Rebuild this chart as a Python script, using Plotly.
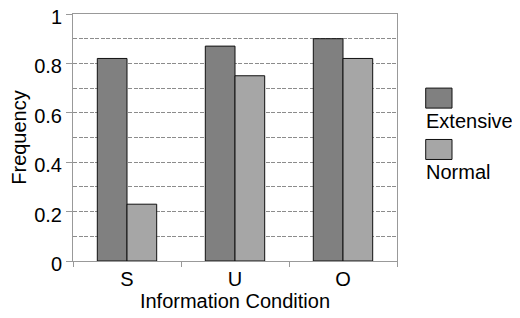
import plotly.graph_objects as go

categories = ["S", "U", "O"]
extensive = [0.82, 0.87, 0.90]
normal = [0.23, 0.75, 0.82]
series_names = ["Extensive", "Normal"]
colors = ["#808080", "#a6a6a6"]
y_ticks = [0, 0.2, 0.4, 0.6, 0.8, 1]
y_tick_text = ["0", "0.2", "0.4", "0.6", "0.8", "1"]

FONT = "Liberation Sans, Arial, sans-serif"
FS = 20

fig = go.Figure()
for name, vals, col in zip(series_names, [extensive, normal], colors):
    fig.add_trace(go.Bar(
        x=categories, y=vals, name=name,
        marker=dict(color=col, line=dict(color="#111111", width=1)),
        showlegend=False,
    ))

# page body has an 8px default margin: shrink the figure accordingly
fig.update_layout(
    width=512, height=310,
    margin=dict(l=65, r=123, t=6, b=57),
    paper_bgcolor="white", plot_bgcolor="white",
    barmode="group", bargap=0.45, bargroupgap=0,
    font=dict(family=FONT, size=FS, color="black"),
)

fig.update_xaxes(
    type="category", tickson="boundaries", automargin=False,
    ticks="outside", ticklen=5, tickcolor="#999999",
    showline=True, linecolor="#999999", linewidth=1, mirror=True,
    showgrid=False,
    tickfont=dict(size=FS),
    title=dict(text="Information Condition", font=dict(size=FS), standoff=0),
)
fig.update_yaxes(
    range=[0, 1], tickvals=y_ticks, ticktext=y_tick_text, automargin=False,
    ticklabeloverflow="allow", ticklabelshift=3,
    ticks="outside", ticklen=6, tickcolor="#999999",
    showline=True, linecolor="#999999", linewidth=1, mirror=True,
    showgrid=True, gridcolor="#8c8c8c", griddash="4px,1.5px", gridwidth=1,
    minor=dict(dtick=0.1, tick0=0, showgrid=True, gridcolor="#8c8c8c",
               griddash="4px,1.5px", gridwidth=1),
    zeroline=False,
    tickfont=dict(size=FS),
    title=dict(text="Frequency", font=dict(size=FS), standoff=6),
)

# custom legend: swatch above label
legend_items = [(series_names[0], colors[0], 0.700, 0.565),
                (series_names[1], colors[1], 0.492, 0.360)]
for name, col, ytop, ytext in legend_items:
    fig.add_shape(type="rect", xref="paper", yref="paper",
                  x0=1.0886, x1=1.1698, y0=ytop - 0.081, y1=ytop,
                  fillcolor=col, line=dict(color="#111111", width=1))
    fig.add_annotation(xref="paper", yref="paper", x=1.083, y=ytext,
                       text=name, showarrow=False, xanchor="left",
                       yanchor="middle", font=dict(size=FS))

fig.write_html("out.html")
